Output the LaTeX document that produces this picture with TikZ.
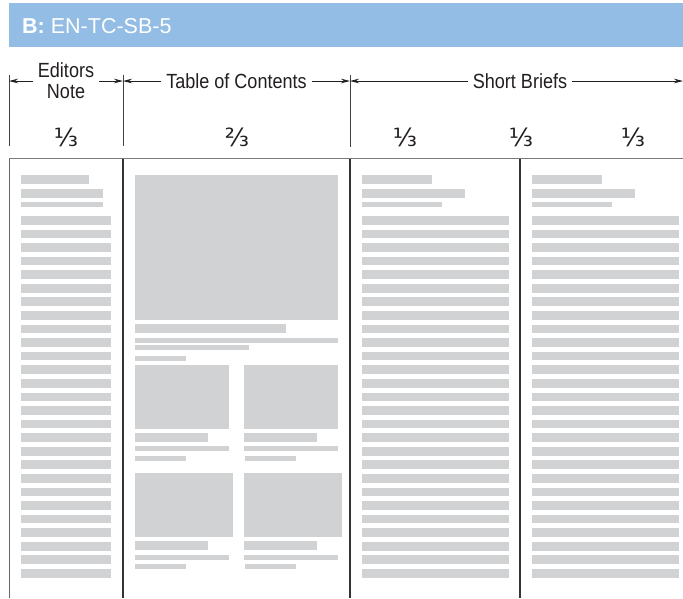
\documentclass[tikz,border=0pt]{standalone}
\usepackage{fontspec}
\setmainfont{Liberation Sans}
\newfontfamily\condfont[FakeStretch=0.88]{Liberation Sans}
\newfontfamily\fracfont{DejaVu Sans}
\usetikzlibrary{arrows.meta}
\definecolor{hdrblue}{HTML}{93BDE4}
\definecolor{bargray}{HTML}{D1D2D4}
\definecolor{ink}{HTML}{231F20}
\definecolor{rulegray}{HTML}{7B7B7B}
\begin{document}
\begin{tikzpicture}[x=1pt,y=-1pt,
  bar/.style={fill=bargray},
  dimlabel/.style={font=\condfont\fontsize{20.5}{21}\selectfont, text=ink, inner xsep=5pt, inner ysep=0pt, align=center},
  fraclabel/.style={font=\fracfont\fontsize{25}{25}\selectfont, text=ink, inner sep=0pt},
  dimline/.style={draw=ink, line width=0.8pt, -{Stealth[length=9pt,width=4.5pt]}},
  extline/.style={draw=ink!85, line width=0.9pt},
  colline/.style={draw=black!80, line width=1.3pt},
  edgeline/.style={draw=black!60, line width=1pt},
  topline/.style={draw=rulegray, line width=1.6pt},
]
\useasboundingbox (0,0) rectangle (683,598);
\fill[white] (0,0) rectangle (683,598);
% header bar
\fill[hdrblue] (9,3) rectangle (683,46.5);
\node[anchor=base west, text=white, font=\fontsize{21.5}{22}\selectfont, inner sep=0pt] (title) at (22,33.3) {\textbf{B:} EN-TC-SB-5};

% extension lines
\coordinate (e0t) at (9,75);   \coordinate (e0b) at (9,146);
\coordinate (e1t) at (123,75); \coordinate (e1b) at (123,146);
\coordinate (e2t) at (350,75); \coordinate (e2b) at (350,147);
\coordinate (eend) at (683,81);
\draw[extline] (e0t) -- (e0b);
\draw[extline] (e1t) -- (e1b);
\draw[extline] (e2t) -- (e2b);

% dimension labels
\node[dimlabel] (ed) at (66,81) {Editors\\Note};
\node[dimlabel] (toc) at (236.5,81) {Table of Contents};
\node[dimlabel] (sb) at (520,81) {Short Briefs};

\draw[dimline] (ed.west) -- (ed.west -| e0t);
\draw[dimline] (ed.east) -- (ed.east -| e1t);
\draw[dimline] (toc.west) -- (toc.west -| e1t);
\draw[dimline] (toc.east) -- (toc.east -| e2t);
\draw[dimline] (sb.west) -- (sb.west -| e2t);
\draw[dimline] (sb.east) -- (eend);

% fractions
\node[fraclabel] (f1) at (66,137.5) {⅓};
\node[fraclabel] (f2) at (237,137.5) {⅔};
\node[fraclabel] (f3) at (405,137.5) {⅓};
\node[fraclabel] (f4) at (521,137.5) {⅓};
\node[fraclabel] (f5) at (633,137.5) {⅓};

% page rules
\draw[edgeline] (9,158.5) -- (9,598);
\draw[colline] (123,158.5) -- (123,598);
\draw[colline] (350,158.5) -- (350,598);
\draw[colline] (520,158.5) -- (520,598);
\draw[topline] (9,158.5) -- (683,158.5);

% Editors note column
\fill[bar] (21,175) rectangle (89,183.7);
\fill[bar] (21,189.3) rectangle (103,197.7);
\fill[bar] (21,201.7) rectangle (103,206.7);
\foreach \k in {0,...,26} \fill[bar] (21,{216+\k*13.577}) rectangle (111,{224.7+\k*13.577});

% Short briefs column 1
\fill[bar] (362,175) rectangle (432,183.7);
\fill[bar] (362,189.3) rectangle (465,197.7);
\fill[bar] (362,201.7) rectangle (442,206.7);
\foreach \k in {0,...,26} \fill[bar] (362,{216+\k*13.577}) rectangle (509,{224.7+\k*13.577});

% Short briefs column 2
\fill[bar] (532,175) rectangle (602,183.7);
\fill[bar] (532,189.3) rectangle (635,197.7);
\fill[bar] (532,201.7) rectangle (612,206.7);
\foreach \k in {0,...,26} \fill[bar] (532,{216+\k*13.577}) rectangle (679,{224.7+\k*13.577});

% Table of contents column
\fill[bar] (135,175) rectangle (338,319.7);
\fill[bar] (135,324) rectangle (286,332.7);
\fill[bar] (135,338) rectangle (338,342.7);
\fill[bar] (135,345) rectangle (249,350);
\fill[bar] (135,356) rectangle (186,360.7);
% row 1
\fill[bar] (135,365) rectangle (229,429);
\fill[bar] (244,365) rectangle (338,429);
\fill[bar] (135,433) rectangle (208,442);
\fill[bar] (244,433) rectangle (317,442);
\fill[bar] (135,446) rectangle (229,450.7);
\fill[bar] (244,446) rectangle (338,450.7);
\fill[bar] (135,456) rectangle (186,460.7);
\fill[bar] (245,456) rectangle (296,460.7);
% row 2
\fill[bar] (135,473) rectangle (233,536.7);
\fill[bar] (244,473) rectangle (342,536.7);
\fill[bar] (135,541) rectangle (208,550);
\fill[bar] (244,541) rectangle (317,550);
\fill[bar] (135,555) rectangle (229,559.7);
\fill[bar] (244,555) rectangle (338,559.7);
\fill[bar] (135,564) rectangle (186,568.7);
\fill[bar] (245,564) rectangle (296,568.7);
\end{tikzpicture}
\end{document}
